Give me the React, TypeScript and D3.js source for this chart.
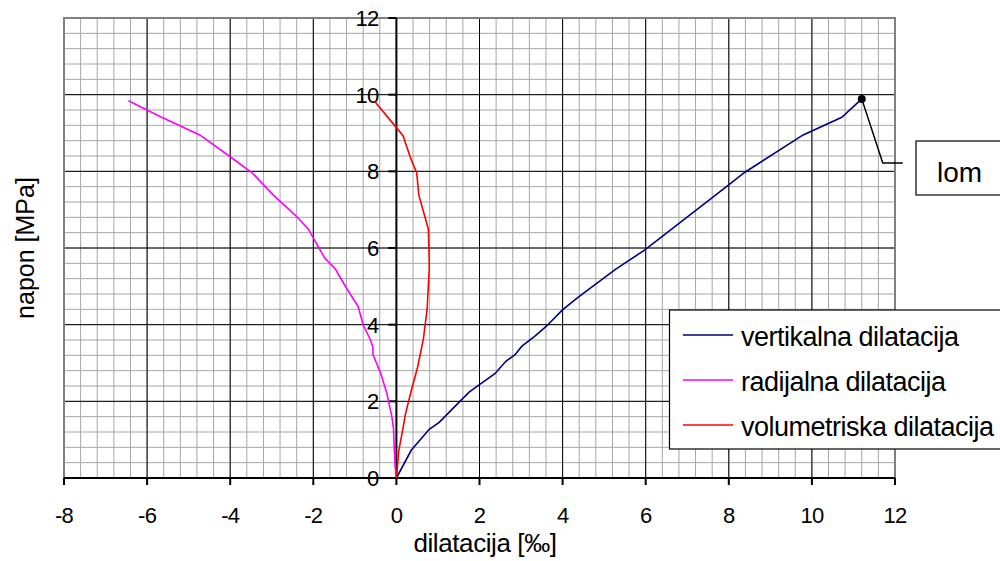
import React from "react";
import * as d3 from "d3";

const xTicks = [-8, -6, -4, -2, 0, 2, 4, 6, 8, 10, 12];
const yTicks = [0, 2, 4, 6, 8, 10, 12];

const vertX = [0, 0.36, 0.6, 0.79, 1.03, 1.51, 1.75, 1.99, 2.37, 2.64, 2.85, 3.02, 3.32, 3.61, 3.99, 4.37, 5.28, 5.98, 7.99, 8.38, 9.79, 10.72, 11.2];
const vertY = [0, 0.73, 1.03, 1.27, 1.45, 1.98, 2.24, 2.43, 2.72, 3.05, 3.21, 3.44, 3.69, 3.96, 4.38, 4.71, 5.45, 5.95, 7.64, 7.97, 8.95, 9.41, 9.89];

const radX = [0, -0.03, -0.05, -0.07, -0.11, -0.23, -0.39, -0.56, -0.57, -0.64, -0.8, -0.92, -1.2, -1.48, -1.72, -2.12, -2.4, -2.96, -3.48, -4.0, -4.73, -5.65, -6.45];
const radY = [0, 0.29, 0.73, 1.3, 1.6, 2.21, 2.77, 3.21, 3.43, 3.64, 3.99, 4.47, 4.95, 5.47, 5.73, 6.49, 6.82, 7.38, 7.97, 8.38, 8.95, 9.41, 9.84];

const volX = [0, 0.06, 0.15, 0.22, 0.36, 0.51, 0.65, 0.74, 0.79, 0.79, 0.77, 0.54, 0.49, 0.33, 0.16, 0.0, -0.52];
const volY = [0, 0.73, 1.25, 1.68, 2.29, 2.89, 3.63, 4.41, 5.45, 5.69, 6.49, 7.38, 7.95, 8.38, 8.93, 9.14, 9.82];

const seriesNames = ["vertikalna dilatacija", "radijalna dilatacija", "volumetriska dilatacija"];
const seriesColors = ["#000080", "#ff00ff", "#ff0000"];
const breakPoint = { x: 11.2, y: 9.89, label: "lom" };

export default function App() {
  const W = 1000, H = 561;
  const x = d3.scaleLinear().domain([-8, 12]).range([64, 895]);
  const y = d3.scaleLinear().domain([0, 12]).range([478, 18]);
  const minorX = d3.range(-8, 12.001, 0.4);
  const minorY = d3.range(0, 12.001, 0.4);
  const line = d3.line<[number, number]>().x(d => x(d[0])).y(d => y(d[1]));
  const series = [
    vertX.map((v, i) => [v, vertY[i]] as [number, number]),
    radX.map((v, i) => [v, radY[i]] as [number, number]),
    volX.map((v, i) => [v, volY[i]] as [number, number]),
  ];
  const font = "'Liberation Sans', Arial, sans-serif";
  const bx = x(breakPoint.x), by = y(breakPoint.y);
  return (
    <svg width={W} height={H} style={{ position: "absolute", left: 0, top: 0, background: "#fff" }} fontFamily={font}>
      {minorX.map((v, i) => (
        <line key={"mx" + i} x1={x(v)} x2={x(v)} y1={y(0)} y2={y(12)} stroke="#a6a6a6" strokeWidth={1} />
      ))}
      {minorY.map((v, i) => (
        <line key={"my" + i} y1={y(v)} y2={y(v)} x1={x(-8)} x2={x(12)} stroke="#a6a6a6" strokeWidth={1} />
      ))}
      {xTicks.filter(v => v !== -8 && v !== 12 && v !== 0).map(v => (
        <line key={"Mx" + v} x1={x(v)} x2={x(v)} y1={y(0)} y2={y(12)} stroke="#000" strokeWidth={1} />
      ))}
      {yTicks.filter(v => v !== 0 && v !== 12).map(v => (
        <line key={"My" + v} y1={y(v)} y2={y(v)} x1={x(-8)} x2={x(12)} stroke="#000" strokeWidth={1} />
      ))}
      <rect x={x(-8)} y={y(12)} width={x(12) - x(-8)} height={y(0) - y(12)} fill="none" stroke="#808080" strokeWidth={2} />
      {/* axes */}
      <line x1={x(0)} x2={x(0)} y1={y(0)} y2={y(12)} stroke="#000" strokeWidth={2} />
      <line x1={x(-8)} x2={x(12)} y1={y(0)} y2={y(0)} stroke="#000" strokeWidth={2} />
      {yTicks.map(v => (
        <g key={"yt" + v}>
          <line x1={x(0) - 8} x2={x(0)} y1={y(v)} y2={y(v)} stroke="#000" strokeWidth={2} />
          <text x={x(0) - 18} y={y(v)} dy="0.36em" textAnchor="end" fontSize={22} letterSpacing={-0.8}>{v}</text>
        </g>
      ))}
      {xTicks.map(v => (
        <g key={"xt" + v}>
          <line x1={x(v)} x2={x(v)} y1={y(0)} y2={y(0) + 7} stroke="#000" strokeWidth={2} />
          <text x={x(v)} y={523} textAnchor="middle" fontSize={22} letterSpacing={-0.8}>{v}</text>
        </g>
      ))}
      {series.map((s, i) => (
        <path key={"s" + i} d={line(s) || ""} fill="none" stroke={seriesColors[i]} strokeWidth={1.6} />
      ))}
      {/* break annotation */}
      <circle cx={bx} cy={by} r={4} fill="#000" />
      <polyline points={`${bx},${by} ${bx + 21},${by + 64} ${bx + 41},${by + 64}`} fill="none" stroke="#000" strokeWidth={1.5} />
      <rect x={916} y={141} width={100} height={54} fill="#fff" stroke="#000" strokeWidth={1.2} />
      <text x={937} y={182} fontSize={28}>{breakPoint.label}</text>
      {/* legend */}
      <rect x={669.5} y={310} width={340} height={139} fill="#fff" stroke="#000" strokeWidth={1.2} />
      {seriesNames.map((n, i) => (
        <g key={"lg" + i}>
          <line x1={683} x2={733} y1={335 + i * 45} y2={335 + i * 45} stroke={seriesColors[i]} strokeWidth={1.6} />
          <text x={741} y={346 + i * 45} fontSize={27} letterSpacing={-0.5}>{n}</text>
        </g>
      ))}
      <text x={485} y={552} textAnchor="middle" fontSize={26} letterSpacing={-0.4}>dilatacija [‰]</text>
      <text transform={`translate(34,248) rotate(-90)`} textAnchor="middle" fontSize={25}>napon [MPa]</text>
    </svg>
  );
}
